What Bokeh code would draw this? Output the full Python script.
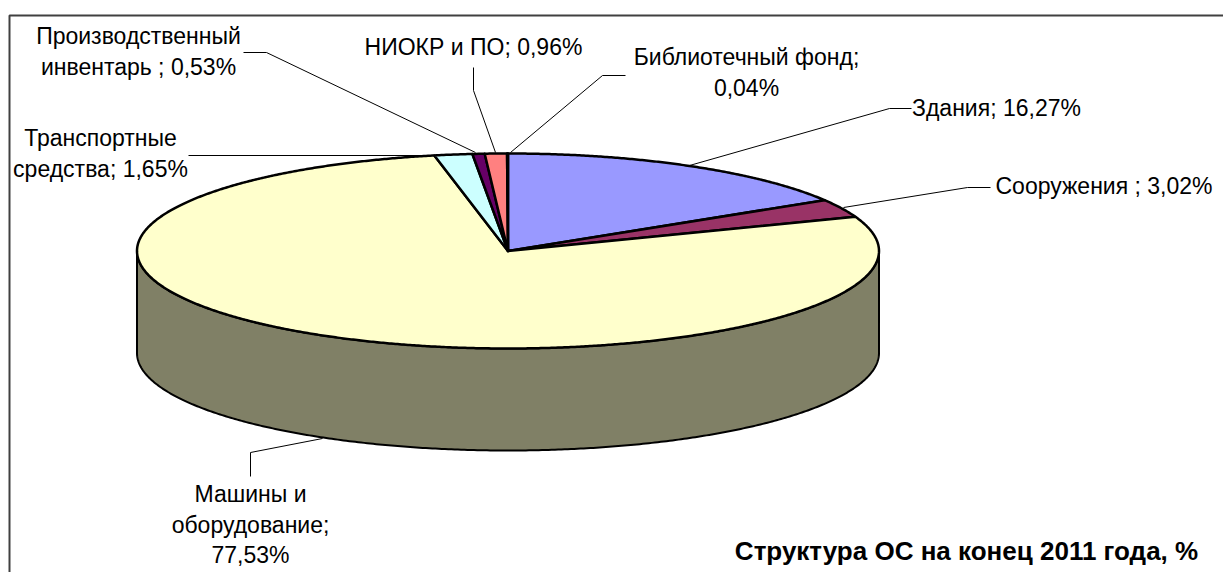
import numpy as np
from bokeh.plotting import figure
from bokeh.models import Range1d
from bokeh.core.properties import value
from bokeh.embed import file_html
from bokeh.resources import INLINE

categories = ["Здания", "Сооружения", "Машины и оборудование", "Транспортные средства",
              "Производственный инвентарь", "НИОКР и ПО", "Библиотечный фонд"]
shares = [16.27, 3.02, 77.53, 1.65, 0.53, 0.96, 0.04]
slice_colors = ["#9999FF", "#993366", "#FFFFCC", "#CCFFFF", "#660066", "#FF8080", "#CCCCCC"]
side_color = "#808066"

label_lines = ["Производственный", "инвентарь ; 0,53%", "Транспортные", "средства; 1,65%",
               "НИОКР и ПО; 0,96%", "Библиотечный фонд;", "0,04%", "Здания; 16,27%",
               "Сооружения ; 3,02%", "Машины и", "оборудование;", "77,53%"]
label_x = [138, 138, 100, 100, 473, 746, 746, 996, 1103.5, 250, 250, 250]
label_y = [35, 66, 137, 168, 46, 56, 87, 107, 185, 493, 524, 554]
chart_title = "Структура ОС на конец 2011 года, %"

leaders = [
    ([243, 266, 475], [52, 52, 152]),
    ([188, 437], [155, 155]),
    ([473, 473, 495], [67, 90, 152]),
    ([625, 602, 510], [75, 75, 152]),
    ([689, 889, 911], [165, 108, 108]),
    ([843, 967, 990], [207, 187, 187]),
    ([322, 250, 250], [438, 452, 476]),
]

W, H = 1223, 572
CX, CY, RX, RY, DEPTH = 507.5, 250.5, 371, 97.5, 102

p = figure(width=W, height=H, x_range=Range1d(0, W), y_range=Range1d(H, 0),
           output_backend="svg", toolbar_location=None, min_border=0,
           outline_line_color=None, background_fill_color="white")
p.axis.visible = False
p.grid.visible = False

# frame: top and left edges only
p.line([9, 9, 1223], [572, 15, 15], line_color="#404040", line_width=2)


def rim(a0, a1, n=200):
    t = np.radians(np.linspace(a0, a1, n))
    return CX + RX * np.sin(t), CY - RY * np.cos(t)


# side wall
sx, sy = rim(90, 270, 360)
p.patch(np.r_[sx, sx[::-1]], np.r_[sy, sy[::-1] + DEPTH], fill_color=side_color,
        line_color="black", line_width=2, line_join="round")

# top slices
edges = np.r_[0, np.cumsum(shares)] * 3.6
for i, col in enumerate(slice_colors):
    n = max(4, int((edges[i + 1] - edges[i]) * 3))
    x, y = rim(edges[i], edges[i + 1], n)
    p.patch(np.r_[CX, x], np.r_[CY, y], fill_color=col, line_color="black",
            line_width=2.5, line_join="round")

for lx, ly in leaders:
    p.line(lx, ly, line_color="black", line_width=1)

p.text(label_x, label_y, text=label_lines, text_align="center", text_baseline="middle",
       text_font=value("Liberation Sans"), text_font_size="23px", text_color="black")
p.text([966], [550], text=[chart_title], text_align="center", text_baseline="middle",
       text_font=value("Liberation Sans"), text_font_size="26px", text_font_style="bold",
       text_color="black")

open("out.html", "w").write(file_html(p, INLINE))
